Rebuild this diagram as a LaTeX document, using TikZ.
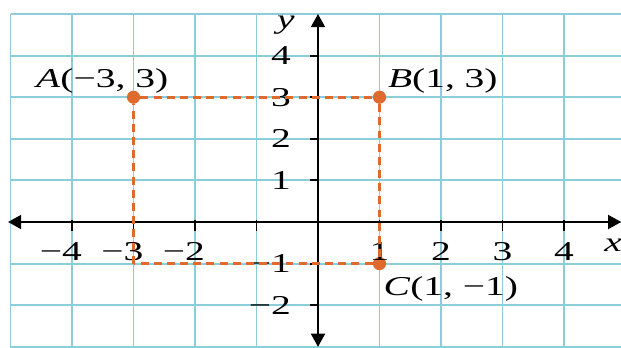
\documentclass[tikz,border=0pt]{standalone}
\usepackage{fontspec}
\setmainfont{Liberation Serif}[FakeStretch=1.45]
\usetikzlibrary{arrows.meta}

\definecolor{gridblue}{RGB}{140,205,218}
\definecolor{ptorange}{RGB}{224,105,45}
\tikzset{
  dot/.style={circle, fill=ptorange, inner sep=0pt, minimum size=7.5pt},
  side/.style={ptorange, line width=1.6pt, dash pattern=on 4.5pt off 3pt},
  axis/.style={line width=1.1pt, {Triangle[length=7.5pt,width=8pt]}-{Triangle[length=7.5pt,width=8pt]}},
  num/.style={font=\fontsize{15.5}{18}\selectfont, inner sep=0pt},
  ptlbl/.style={font=\fontsize{15.5}{18}\selectfont, inner sep=0pt},
}

\begin{document}
\begin{tikzpicture}[x=1.23cm, y=0.832cm]
                    \useasboundingbox (-5.171,-3.005) rectangle (4.927,5.337);
                    % Grid
                    \draw[gridblue, line width=1.1pt, step=1] (-5,-3.2) grid (5.2,5);
                    % Points
                    \node[dot] (A) at (-3,3) {};
                    \node[dot] (B) at (1,3) {};
                    \node[dot] (C) at (1,-1) {};
                    \coordinate (D) at (-3,-1);
                    % Axes
                    \coordinate (xl) at (-5.04,0);
                    \coordinate (xr) at (4.93,0);
                    \coordinate (yt) at (0,5);
                    \coordinate (yb) at (0,-3);
                    \draw[axis] (xl) -- (xr);
                    \draw[axis] (yb) -- (yt);
                    \foreach \i in {-4,-3,-2,-1,1,2,3,4}
                      \draw[line width=1.1pt] (\i,0.05) -- (\i,-0.22);
                    \foreach \j in {-2,-1,1,2,3,4}
                      \draw[line width=1.1pt] (0,\j) -- (-0.13,\j);
                    % Numbers
                    \foreach \i in {-4,-3,-2}
                      \node[num] (nx\i) at (\i,-0.7) {\llap{−}\the\numexpr-\i\relax};
                    \foreach \i in {1,2,3,4}
                      \node[num] (nx\i) at (\i,-0.7) {\i};
                    \foreach \j in {-2,-1}
                      \node[num] (ny\j) at (-0.6,\j) {\llap{−}\the\numexpr-\j\relax};
                    \foreach \j in {1,2,3,4}
                      \node[num] (ny\j) at (-0.6,\j) {\j};
                    \node[num] (xlab) at (4.8,-0.55) {\textit{x}};
                    \node[num] (ylab) at (-0.52,4.74) {\textit{y}};
                    % Edges
                    \draw[side] (A) -- (B);
                    \draw[side] (B) -- (C);
                    \draw[side] (C) -- (D);
                    \draw[side] (D) -- (A);
                    % Labels
                    \node[ptlbl] (labA) at (-3.51,3.39) {\textit{A}(−3, 3)};
                    \node[ptlbl] (labB) at (2.03,3.39) {\textit{B}(1, 3)};
                    \node[ptlbl] (labC) at (2.16,-1.61) {\textit{C}(1, −1)};
                \end{tikzpicture}
\end{document}
